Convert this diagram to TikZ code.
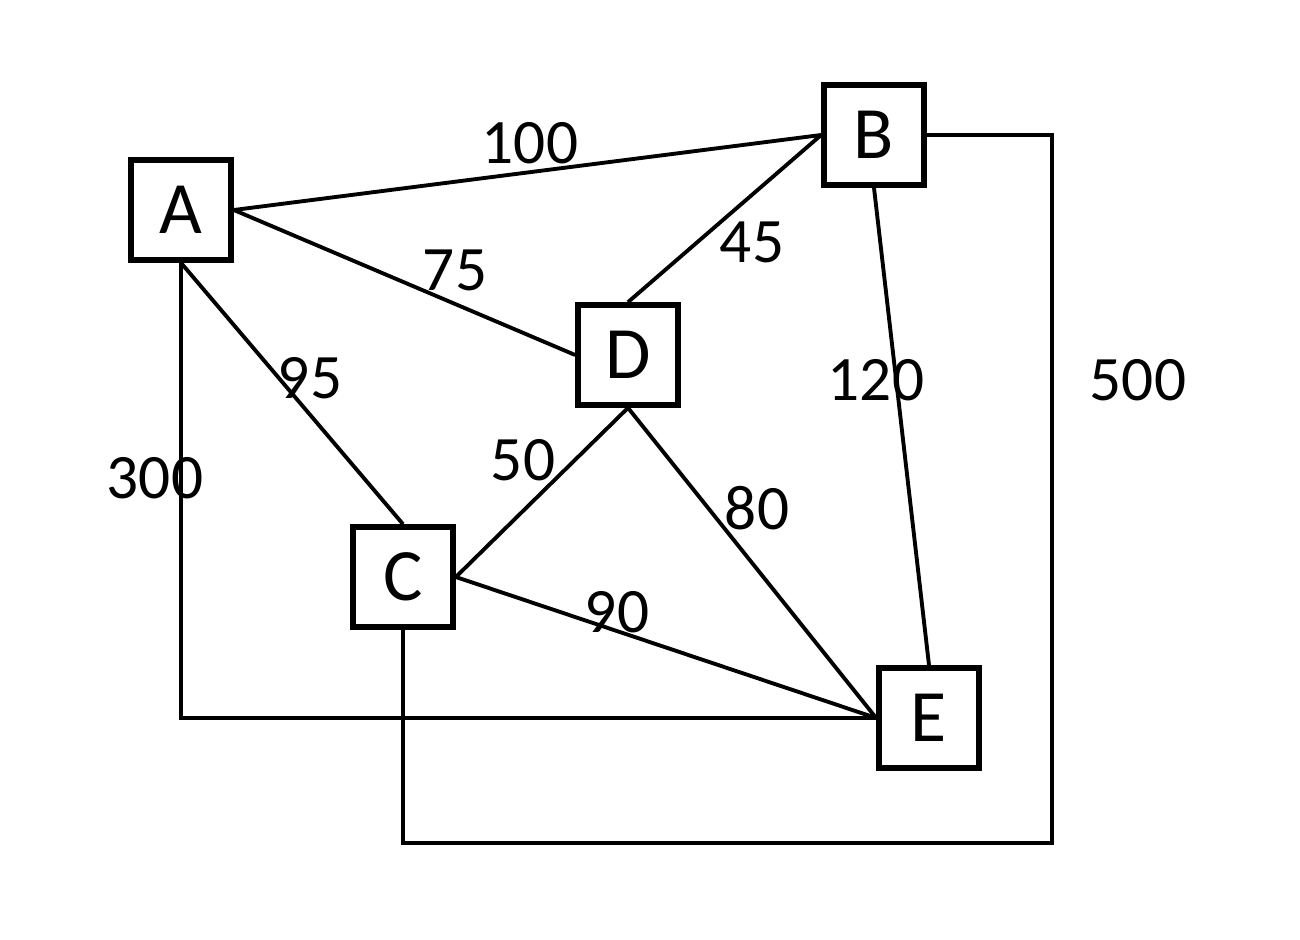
\documentclass[tikz,border=0pt]{standalone}
\usepackage{fontspec}
\setmainfont{Carlito}
\begin{document}
\begin{tikzpicture}[x=0.01cm,y=-0.01cm,line width=1.1pt,
    vertex/.style={draw=black,line width=1.6pt,minimum size=1cm,inner sep=0pt,font=\fontsize{21}{24}\selectfont},
    weight/.style={font=\fontsize{18}{21}\selectfont}]
    \useasboundingbox (0,0) rectangle (1300,940);

    \node[vertex] (A) at (181,210) {A};
    \node[vertex] (B) at (874,135) {B};
    \node[vertex] (D) at (628,355) {D};
    \node[vertex] (C) at (403,577) {C};
    \node[vertex] (E) at (929,718) {E};
    \coordinate (k) at (1052,843);

    \draw (A.east) -- (B.west);
    \draw (A.east) -- (D.west);
    \draw (A.south) -- (C.north);
    \draw (A.south) |- (E.west);
    \draw (B.west) -- (D.north);
    \draw (B.south) -- (E.north);
    \draw (B.east) -| (k) -| (C.south);
    \draw (D.south) -- (C.east);
    \draw (D.south) -- (E.west);
    \draw (C.east) -- (E.west);

    \node[weight] at (530,143) {100};
    \node[weight] at (455,270) {75};
    \node[weight] at (310,378) {95};
    \node[weight] at (155,478) {300};
    \node[weight] at (752,242) {45};
    \node[weight] at (876,380) {120};
    \node[weight] at (1138,380) {500};
    \node[weight] at (523,460) {50};
    \node[weight] at (757,508) {80};
    \node[weight] at (617,612) {90};
\end{tikzpicture}
\end{document}
